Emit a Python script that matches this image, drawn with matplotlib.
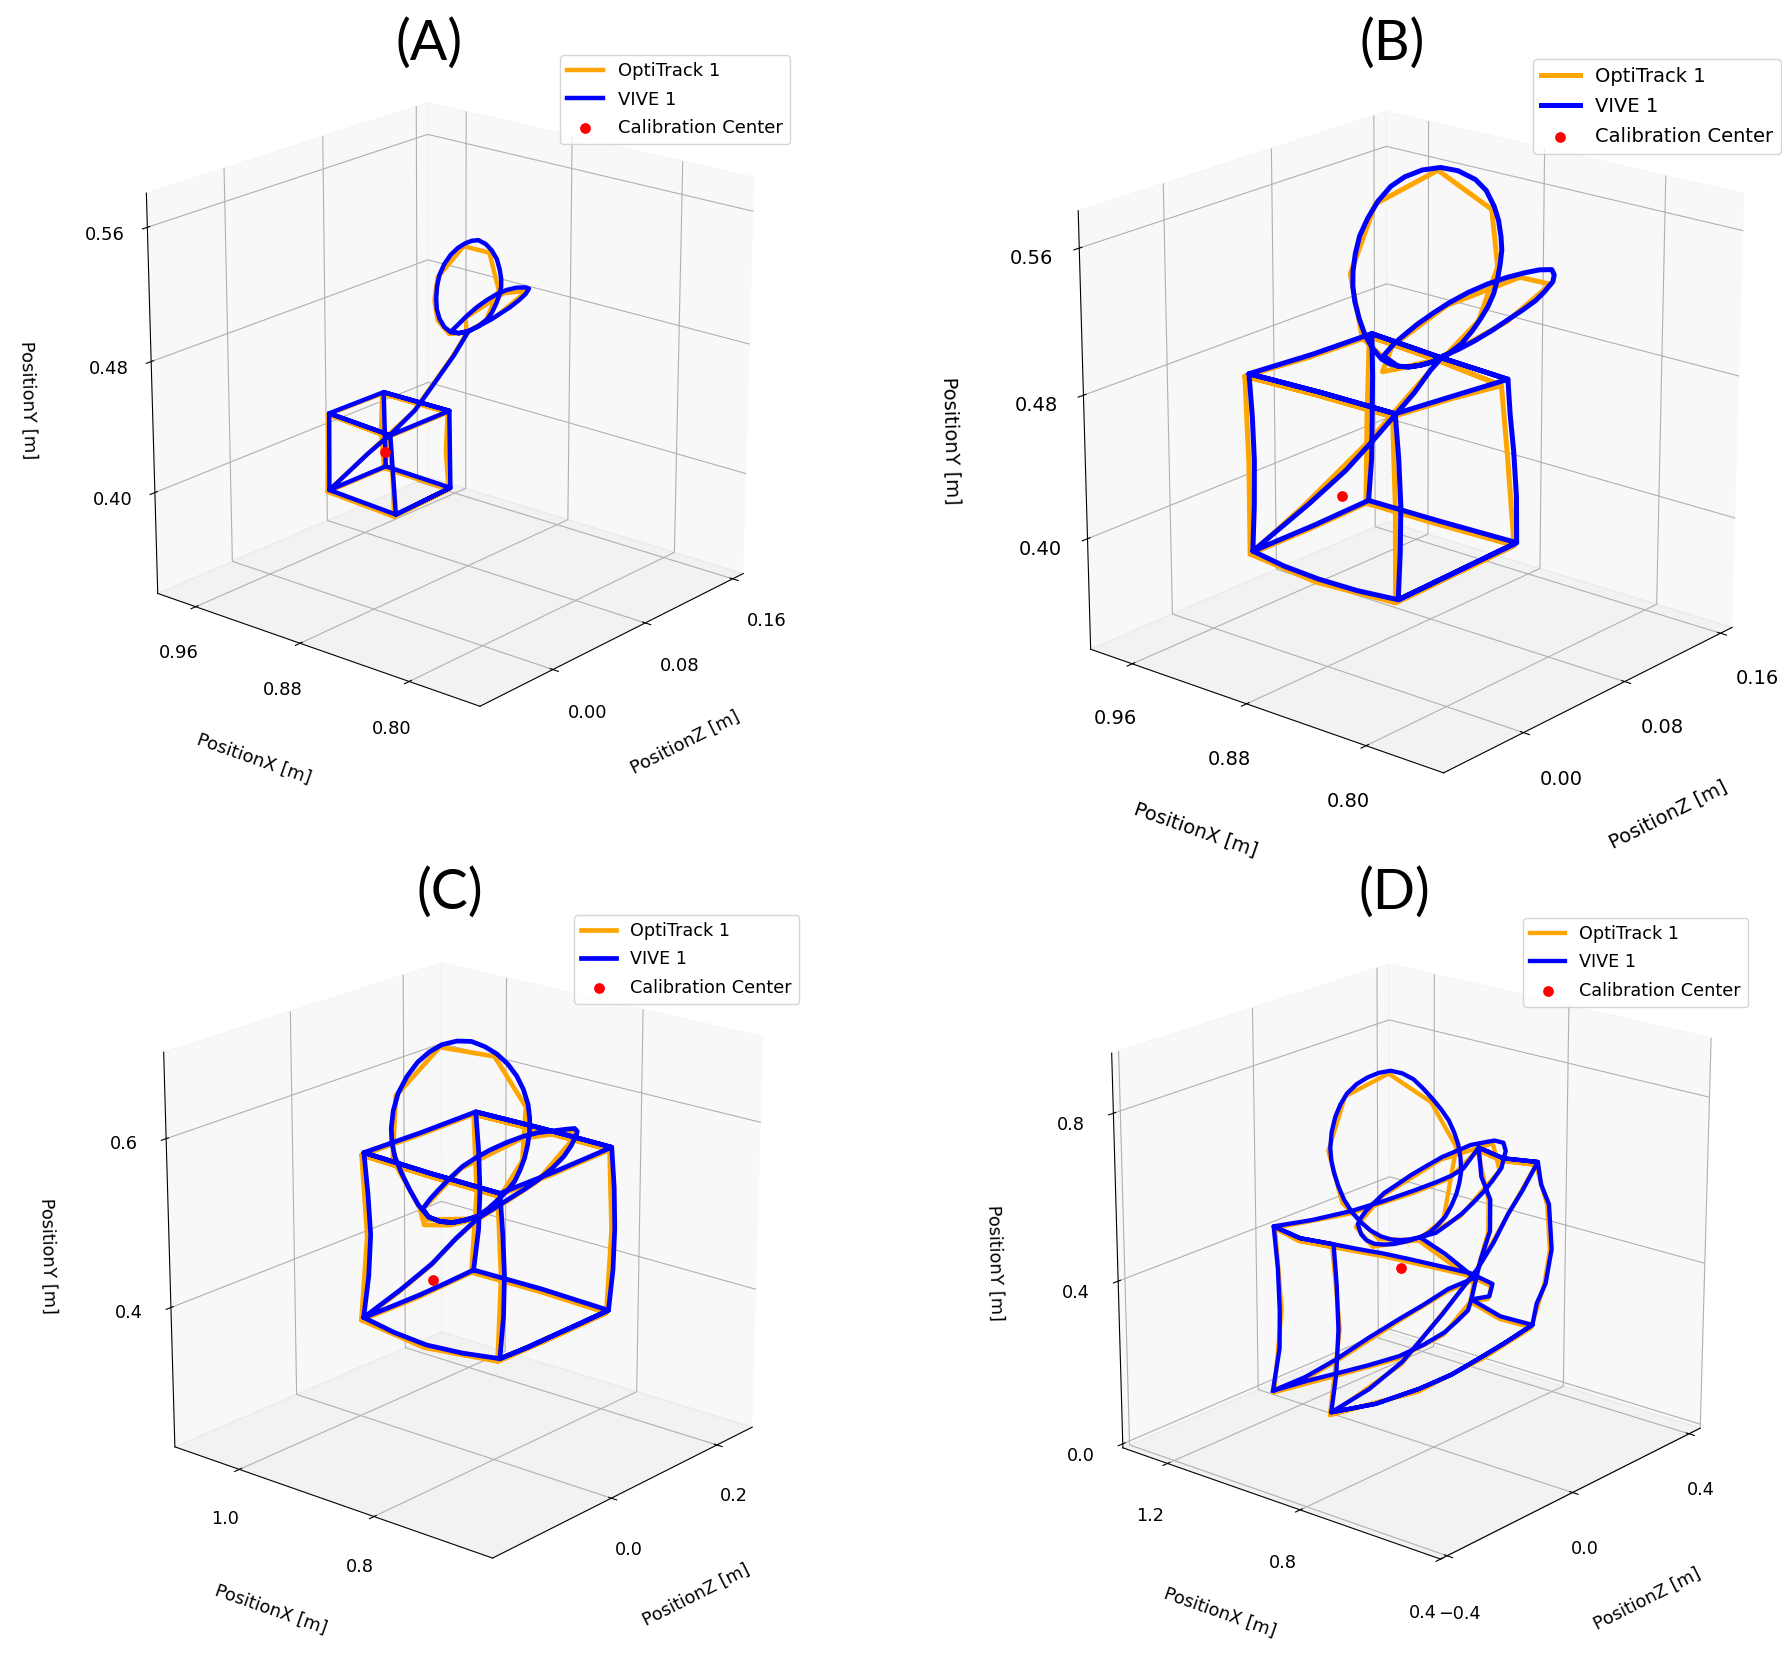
import matplotlib
matplotlib.use("Agg")
import matplotlib.pyplot as plt
from matplotlib.transforms import Affine2D

W, H = 1782, 1655
LOOP_X = .866   # PositionX of the loop part of each trajectory

# ---------- Panel A ----------
a_vive_loop_z = [.0641,.0560,.0492,.0437,.0397,.0375,.0370,.0377,.0397,.0437,.0492,.0550,.0614,.0668,.0722,.0785,.0835,.0880,.0905,.0918,.0918,.0900,.0875,.0842,.0804,.0725,.0641,.0560,.0492,
                 .0555,.0628,.0710,.0795,.0880,.0965,.1050,.1130,.1160,.1130,.1070,.0990,.0905,.0835,.0765,.0641,.0519,.0329,.0194,.0004,-.0186]
a_vive_loop_y = [.4915,.4925,.4950,.4997,.5058,.5120,.5186,.5255,.5318,.5372,.5414,.5438,.5450,.5450,.5440,.5400,.5350,.5285,.5215,.5155,.5105,.5055,.5015,.4975,.4945,.4920,.4915,.4925,.4954,
                 .4980,.5012,.5040,.5060,.5072,.5075,.5066,.5046,.5030,.5005,.4982,.4960,.4945,.4932,.4925,.4915,.4804,.4664,.4567,.4486,.4425]
a_vive_cube_x = [.891,.841,.841,.891,.891,.891,.891,.841,.841,.891,.841,.841,.841,.841,.891,.891]
a_vive_cube_z = [-.0234,-.0245,.0202,.0226,-.0234,-.0229,.0213,.0194,-.0286,-.0229,-.0286,-.0245,.0202,.0194,.0213,.0226]
a_vive_cube_y = [.4153,.4138,.4156,.4153,.4153,.4614,.4610,.4623,.4623,.4614,.4623,.4138,.4156,.4623,.4610,.4153]
a_opti_loop_z = [.0626,.0477,.0382,.0355,.0382,.0599,.0816,.0897,.0789,.0626,.0613,.0938,.1145,.0884,.0626,.0504,.0179,-.0201]
a_opti_loop_y = [.4909,.4944,.5052,.5178,.5308,.5436,.5340,.5094,.4939,.4909,.5002,.5062,.5022,.4940,.4909,.4798,.4561,.4419]
a_opti_cube_x = [.891,.841,.841,.891,.891,.891,.891,.841,.841,.891,.841,.841,.841,.841,.841,.841,.891,.891,.891]
a_opti_cube_z = [-.0249,-.0260,.0187,.0211,-.0249,-.0238,.0200,.0180,-.0300,-.0238,-.0300,-.0270,-.0260,.0187,.0165,.0180,.0200,.0190,.0211]
a_opti_cube_y = [.4147,.4130,.4150,.4147,.4147,.4610,.4605,.4618,.4617,.4610,.4617,.4380,.4130,.4150,.4390,.4618,.4605,.4380,.4147]
a_center = (.866, -.0055, .439)

# ---------- Panel B ----------
b_vive_loop_z = [.0735,.0650,.0561,.0470,.0388,.0322,.0264,.0195,.0141,.0098,.0066,.0052,.0054,.0072,.0104,.0165,.0240,.0335,.0438,.0570,.0710,.0845,.0980,.1065,.1130,.1165,.1185,.1192,.1180,.1160,.1130,.1085,.1030,.0965,.0878,.0805,.0735,.0650,.0561,.0470,.0388,.0277,
                 .0363,.0450,.0537,.0660,.0784,.0930,.1081,.1235,.1380,.1500,.1600,.1620,.1610,.1540,.1470,.1365,.1260,.1125,.0982,.0860,.0735,.0636,.0512,.0363,.0215,-.0008,-.0280]
b_vive_loop_y = [.4921,.4912,.4919,.4935,.4962,.4995,.5035,.5115,.5199,.5300,.5401,.5485,.5567,.5655,.5740,.5820,.5890,.5945,.5970,.5975,.5955,.5905,.5825,.5745,.5640,.5555,.5460,.5385,.5310,.5235,.5160,.5100,.5050,.5000,.4950,.4930,.4912,.4912,.4919,.4935,.4962,.5050,
                 .5096,.5125,.5152,.5180,.5203,.5220,.5226,.5222,.5210,.5195,.5170,.5135,.5100,.5060,.5030,.5005,.4985,.4958,.4937,.4925,.4921,.4870,.4781,.4700,.4619,.4506,.4407]
b_vive_cube_x = [.916,.891,.866,.841,.816,.816,.816,.866,.916,.916,.916,.916,.916,.916,.916,.916,.916,.866,.816,.816,.816,.866,.916,.866,.816,.816,.816,.816,.816,.816,.816,.816,.816,.816,.816,.866,.916,.916,.916,.916,.916]
b_vive_cube_z = [-.016,-.0195,-.021,-.0205,-.018,.028,.073,.071,.072,.030,-.016,-.0145,-.014,-.015,-.017,.030,.075,.071,.065,.023,-.020,-.018,-.017,-.018,-.020,-.0175,-.016,-.0165,-.018,.028,.073,.0725,.070,.067,.065,.071,.075,.0755,.075,.0745,.072]
b_vive_cube_y = [.398,.3972,.397,.3972,.398,.399,.400,.400,.399,.398,.398,.423,.448,.472,.4965,.494,.493,.492,.493,.496,.499,.498,.4965,.498,.499,.474,.448,.423,.398,.399,.400,.426,.452,.473,.493,.492,.493,.469,.445,.422,.399]
b_opti_loop_z = [.0715,.0368,.0121,.0034,.0220,.0690,.1110,.1160,.1010,.0715,.0368,.0270,.0343,.0764,.1340,.1590,.1240,.0715,.0472,.0175,-.0320]
b_opti_loop_y = [.4911,.4952,.5189,.5557,.5880,.5945,.5630,.5300,.5040,.4902,.4952,.4965,.5086,.5193,.5195,.5090,.4975,.4911,.4781,.4619,.4407]
b_opti_cube_x = [.916,.866,.816,.816,.816,.866,.916,.916,.916,.916,.916,.916,.916,.866,.816,.816,.816,.866,.916,.866,.816,.816,.816,.816,.816,.816,.816,.866,.916,.916,.916]
b_opti_cube_z = [-.018,-.023,-.020,.026,.071,.069,.070,.028,-.018,-.018,-.020,.028,.073,.069,.060,.021,-.022,-.020,-.020,-.020,-.022,-.020,-.020,.026,.071,.065,.060,.069,.073,.071,.070]
b_opti_cube_y = [.397,.396,.397,.398,.399,.399,.398,.397,.397,.448,.496,.493,.492,.491,.491,.495,.498,.497,.496,.497,.498,.448,.397,.398,.399,.452,.491,.491,.492,.445,.398]
b_center = (.866, -.004, .4375)

# ---------- Panel C ----------
c_vive_loop_z = [.0520,.0290,.0068,-.0150,-.0354,-.0530,-.0685,-.0815,-.0926,-.0975,-.0986,-.0950,-.0865,-.0715,-.0534,-.0330,-.0112,.0150,.0400,.0635,.0852,.1050,.1213,.1335,.1424,.1455,.1453,.1420,.1364,.1285,.1182,.1055,.0911,.0720,.0520,.0290,.0068,-.0150,-.0354,
                 -.0452,-.0330,-.0184,.0030,.0250,.0490,.0731,.1030,.1334,.1610,.1875,.2110,.2300,.2350,.2330,.2240,.2100,.1880,.1640,.1370,.1094,.0810,.0520,.0130,-.0293,-.0845]
c_vive_loop_y = [.4929,.4945,.4974,.5045,.5153,.5340,.5569,.5785,.6002,.6170,.6344,.6535,.6716,.6870,.6989,.7060,.7094,.7075,.7013,.6900,.6764,.6600,.6421,.6235,.6034,.5865,.5701,.5550,.5405,.5285,.5171,.5100,.5041,.4975,.4929,.4945,.4974,.5045,.5153,
                 .5277,.5355,.5424,.5515,.5594,.5635,.5662,.5676,.5674,.5650,.5605,.5565,.5530,.5480,.5440,.5340,.5240,.5150,.5083,.5030,.4990,.4945,.4906,.4771,.4586,.4430]
c_vive_cube_x = [.966,.916,.866,.816,.766,.766,.766,.766,.766,.866,.966,.966,.966,.966,.966,.966,.966,.966,.966,.966,.966,.866,.766,.766,.766,.866,.966,.866,.766,.766,.766,.766,.766,.766,.766,.766,.766,.766,.766,.766,.766,.866,.966,.966,.966,.966,.966]
c_vive_cube_z = [-.0321,-.0375,-.0397,-.0375,-.0324,.016,.0656,.116,.1669,.1700,.1672,.117,.0696,.016,-.0321,-.0225,-.0185,-.0225,-.0289,.0726,.1711,.1701,.1688,.0636,-.0332,-.0340,-.0289,-.0340,-.0332,-.0280,-.0248,-.0262,-.0324,.016,.0656,.116,.1669,.1745,.1767,.1745,.1688,.1701,.1711,.1765,.1790,.1765,.1672]
c_vive_cube_y = [.3699,.3660,.3640,.3665,.3711,.3700,.3703,.3705,.3711,.3718,.3721,.3702,.3690,.3692,.3699,.418,.4665,.516,.5672,.5659,.5665,.5676,.5672,.5650,.5650,.5665,.5672,.5665,.5650,.516,.4668,.419,.3711,.3700,.3703,.3705,.3711,.419,.4683,.518,.5672,.5676,.5665,.517,.4672,.420,.3721]
c_opti_loop_z = [.0480,-.0394,-.0966,-.0905,-.0152,.0812,.1384,.1324,.0871,.0480,.0028,-.0430,-.0492,.0210,.1294,.2260,.2290,.1600,.1054,.0480,.0090,-.0333,-.0885]
c_opti_loop_y = [.4909,.5133,.5982,.6696,.7074,.6744,.6014,.5385,.5021,.4909,.4954,.5080,.5257,.5574,.5654,.5510,.5420,.5063,.4970,.4886,.4751,.4566,.4410]
c_opti_cube_x = [.966,.866,.766,.766,.766,.866,.966,.966,.966,.966,.966,.966,.966,.866,.766,.766,.766,.866,.966,.866,.766,.766,.766,.766,.766,.766,.766,.866,.966,.966,.966]
c_opti_cube_z = [-.0361,-.0437,-.0364,.0616,.1629,.1660,.1632,.0656,-.0361,-.0245,-.0329,.0686,.1671,.1661,.1648,.0596,-.0372,-.0380,-.0329,-.0380,-.0372,-.0308,-.0364,.0616,.1629,.1707,.1648,.1661,.1671,.1730,.1632]
c_opti_cube_y = [.3679,.3620,.3691,.3683,.3691,.3698,.3701,.3670,.3679,.4665,.5652,.5639,.5645,.5656,.5652,.5630,.5630,.5645,.5652,.5645,.5630,.4668,.3691,.3683,.3691,.4683,.5652,.5656,.5645,.4672,.3701]
c_center = (.866, -.0275, .438)

# ---------- Panel D ----------
d_vive_loop_z = [.0267,-.0040,-.035,-.0665,-.0967,-.1290,-.1583,-.1865,-.2097,-.2270,-.2405,-.2480,-.2508,-.2465,-.2354,-.2195,-.1994,-.1700,-.1378,-.1015,-.0658,-.0290,.0061,.0375,.0678,.0950,.1192,.1365,.1500,.1575,.1603,.1545,.1449,.1290,.1089,.0835,.0575,.0267,
                 -.0140,-.0556,-.0860,-.1172,-.1420,-.1583,-.1686,-.1580,-.1429,-.1150,-.0864,-.0450,-.0042,.0480,.0986,.1450,.1911,.2300,.2700,.3000,.3080,.2940,.2650,.2370,.2000,.1630,.1200,.0781,.0267,
                 .1089,.1808,.2065,.1192,.0369,-.035,-.1378,-.2405,-.3330]
d_vive_loop_y = [.4805,.4850,.4923,.5040,.5202,.5440,.5719,.6050,.6404,.6770,.7142,.7440,.7735,.8085,.8405,.8650,.8849,.8985,.9050,.9065,.9018,.8860,.8628,.8320,.7990,.7670,.7345,.7015,.6687,.6350,.6014,.5750,.5504,.5270,.5060,.4925,.4826,.4805,
                 .4835,.4895,.4975,.5088,.5250,.5440,.5715,.5840,.5950,.6080,.6205,.6290,.6380,.6460,.6530,.6540,.6555,.6500,.6440,.6300,.6080,.5700,.5480,.5300,.5120,.4965,.4850,.4755,.4805,
                 .4144,.3488,.3251,.3252,.3120,.3033,.2887,.2702,.2602]
d_vive_cube_x = [1.066]*10+[.866]+[.666]*7+[.866]+[1.066]*7+[.866]*7+[.666]+[.866]+[1.066]*9+[.866]+[.666]*25+[.866]+[1.066]*5
d_vive_cube_z = [-.2285,-.1220,-.0295,.0732,.176,.2582,.3302,.3713,.4100,.4215,.2950,.1721,.1857,.2150,.2340,.2230,.1959,.1840,.3000,.4437,.4535,.4850,.4850,.4535,.4350,.4215,.2565,.2668,.1911,.0781,-.0042,-.0864,-.1635,-.4515,-.3433,-.2195,-.1015,.0218,.1246,.2274,.2993,.3507,.3918,.4437,.3000,.1840,.1343,.0882,.0418,-.0096,-.1227,-.246,-.3488,-.4622,-.3282,-.1946,-.0918,.0109,.0882,.1721,.0882,.0109,-.0918,-.1946,-.3282,-.4622,-.4464,-.4392,-.4433,-.4515,-.3433,-.2195,-.2084,-.2043,-.2063,-.2285]
d_vive_cube_y = [.1385,.1264,.1130,.0987,.0875,.0891,.0977,.1122,.1280,.1527,.2000,.2692,.3171,.3570,.4349,.5475,.6030,.6604,.5920,.5340,.4575,.3900,.3087,.2465,.1937,.1527,.2630,.2909,.3417,.3967,.4366,.4757,.5100,.6578,.5915,.5350,.5145,.4993,.4928,.4893,.4886,.4897,.4963,.5340,.5920,.6604,.6067,.5649,.5107,.4644,.3905,.3198,.2896,.2749,.2480,.2373,.2363,.2470,.2563,.2692,.2563,.2470,.2363,.2373,.2480,.2749,.3594,.4587,.5615,.6578,.5915,.5350,.4309,.3280,.2350,.1385]
d_opti_loop_z = [.0207,-.1027,-.2157,-.2568,-.2054,-.0718,.0618,.1440,.1029,.0207,-.1232,-.1746,-.0924,.0926,.2640,.2880,.1570,.0207,.1748,.2005,.1132,-.041,-.2465,-.3390]
d_opti_loop_y = [.4755,.5152,.6354,.7685,.8799,.8968,.7940,.6637,.5010,.4755,.5038,.5665,.6155,.6480,.6390,.5650,.4915,.4755,.3438,.3201,.3202,.2983,.2652,.2552]
d_opti_cube_x = [1.066,1.066,1.066,1.066,1.066,.866,.666,.666,.666,.666,.666,.866,1.066,1.066,1.066,1.066,1.066,.866,.866,.866,.866,.866,.666,.866,1.066,1.066,1.066,1.066,1.066,.866,.666,.666,.666,.666,.666,.666,.666,.666,.666,.666,.666,.666,.666,.866,1.066,1.066,1.066]
d_opti_cube_z = [-.2245,-.0335,.172,.3262,.4175,.2910,.1681,.2110,.2280,.2170,.1780,.2960,.4397,.4790,.4790,.4295,.4175,.2525,.2628,.1871,.0741,-.0904,-.4555,-.3473,-.2155,.0178,.2234,.3467,.4397,.2960,.1780,.0842,-.0136,-.250,-.4662,-.1986,.0069,.1681,.0069,-.1986,-.4662,-.4352,-.4555,-.3473,-.2155,-.1983,-.2245]
d_opti_cube_y = [.1335,.1080,.0825,.0927,.1477,.1950,.2642,.3570,.4349,.5475,.6554,.5870,.5290,.3900,.3087,.1937,.1477,.2580,.2859,.3367,.3917,.4707,.6528,.5865,.5300,.4943,.4843,.4847,.5290,.5870,.6554,.5599,.4594,.3148,.2699,.2323,.2420,.2642,.2420,.2323,.2699,.4587,.6528,.5865,.5300,.3280,.1335]
d_center = (.866, -.035, .4244)

def route(loop_z, loop_y, cube_x, cube_z, cube_y):
    return [LOOP_X]*len(loop_z)+cube_x, loop_z+cube_z, loop_y+cube_y

panels = [
 dict(t="(A)", tx=429, ty=44, c=(452,407), S=712, fs=13, lw=3.2,
      xl=(.75,.99), zl=(-.06,.17), yl=(.337,.58), xt=[.80,.88,.96], zt=[0,.08,.16], yt=[.40,.48,.56], fmt="%.2f",
      leg=(560,55), vive=route(a_vive_loop_z,a_vive_loop_y,a_vive_cube_x,a_vive_cube_z,a_vive_cube_y),
      opti=route(a_opti_loop_z,a_opti_loop_y,a_opti_cube_x,a_opti_cube_z,a_opti_cube_y), cen=a_center,
      off=((20,-12),(-5,-15),(-16,2)), loff=((19,-31),(-18,-33),(-36,0))),
 dict(t="(B)", tx=1392, ty=44, c=(1413,445), S=780, fs=14, lw=3.6,
      xl=(.75,.99), zl=(-.06,.17), yl=(.337,.58), xt=[.80,.88,.96], zt=[0,.08,.16], yt=[.40,.48,.56], fmt="%.2f",
      leg=(1533,59), vive=route(b_vive_loop_z,b_vive_loop_y,b_vive_cube_x,b_vive_cube_z,b_vive_cube_y),
      opti=route(b_opti_loop_z,b_opti_loop_y,b_opti_cube_x,b_opti_cube_z,b_opti_cube_y), cen=b_center,
      off=((23,-15),(-5,-23),(-21,0)), loff=((26,-43),(-24,-43),(-45,-4))),
 dict(t="(C)", tx=450, ty=893, c=(465,1263), S=702, fs=12.7, lw=3.4,
      xl=(.633,1.1), zl=(-.21,.27), yl=(.23,.70), xt=[.8,1.0], zt=[0,.2], yt=[.4,.6], fmt="%.1f",
      leg=(574,915), vive=route(c_vive_loop_z,c_vive_loop_y,c_vive_cube_x,c_vive_cube_z,c_vive_cube_y),
      opti=route(c_opti_loop_z,c_opti_loop_y,c_opti_cube_x,c_opti_cube_z,c_opti_cube_y), cen=c_center,
      off=((3,-21),(-2,-18),(-16,4)), loff=((20,-31),(-16,-31),(-33,0))),
 dict(t="(D)", tx=1394, ty=893, c=(1413,1264), S=702, fs=12.7, lw=3.1,
      xl=(.4,1.34), zl=(-.42,.44), yl=(-.01,.94), xt=[.4,.8,1.2], zt=[-.4,0,.4], yt=[0,.4,.8], fmt="%.1f",
      leg=(1523,918), vive=route(d_vive_loop_z,d_vive_loop_y,d_vive_cube_x,d_vive_cube_z,d_vive_cube_y),
      opti=route(d_opti_loop_z,d_opti_loop_y,d_opti_cube_x,d_opti_cube_z,d_opti_cube_y), cen=d_center,
      off=((-2,-26),(-5,-21),(-16,-2)), loff=((23,-34),(-15,-33),(-34,-6))),
]

def shift_ticklabels(ax, axis, dx, dy):
    orig = axis.get_major_ticks
    def patched(numticks=None):
        ticks = orig(numticks)
        for t in ticks:
            t.label1.set_transform(ax.transData + Affine2D().translate(dx, dy))
        return ticks
    axis.get_major_ticks = patched

def shift_label(ax, label, dx, dy):
    tr = ax.transData + Affine2D().translate(dx, dy)
    draw = label.draw
    def shifted(renderer):
        label._transform = tr
        return draw(renderer)
    label.draw = shifted

fig = plt.figure(figsize=(W/100,H/100), dpi=100)
for p in panels:
    S=p['S']; cx,cy=p['c']
    ax = fig.add_axes([(cx-.513*S)/W, 1-(cy+.487*S)/H, S/W, S/H], projection='3d')
    ax.computed_zorder = False
    ax.view_init(elev=20, azim=-140)
    ax.set_box_aspect((1,1,1))
    ax.set_xlim(*p['zl']); ax.set_ylim(*p['xl']); ax.set_zlim(*p['yl'])
    ax.set_xticks(p['zt']); ax.set_yticks(p['xt']); ax.set_zticks(p['yt'])
    f=lambda v:(p['fmt']%v).replace('-','\u2212')
    ax.set_xticklabels([f(v) for v in p['zt']]); ax.set_yticklabels([f(v) for v in p['xt']]); ax.set_zticklabels([f(v) for v in p['yt']])
    ax.tick_params(labelsize=p['fs'])
    ax.xaxis.set_pane_color((.95,.95,.95,.5)); ax.yaxis.set_pane_color((.95,.95,.95,.5)); ax.zaxis.set_pane_color((.90,.90,.90,.5))
    ax.set_xlabel("PositionZ [m]",fontsize=p['fs'],labelpad=18)
    ax.set_ylabel("PositionX [m]",fontsize=p['fs'],labelpad=18)
    ax.set_zlabel("PositionY [m]",fontsize=p['fs'],labelpad=18)
    for axis,o,l in zip((ax.xaxis,ax.yaxis,ax.zaxis),p['off'],p['loff']):
        shift_ticklabels(ax,axis,*o)
        shift_label(ax,axis.label,*l)
    ox,oz,oy=p['opti']; vx,vz,vy=p['vive']
    ax.plot(oz,ox,oy,color='orange',lw=p['lw'],label='OptiTrack 1',zorder=2,solid_joinstyle='round')
    ax.plot(vz,vx,vy,color='blue',lw=p['lw'],label='VIVE 1',zorder=3,solid_joinstyle='round')
    X,Z,Y=p['cen']
    ax.scatter([Z],[X],[Y],color='red',s=45,label='Calibration Center',depthshade=False,zorder=4)
    lx,ly=p['leg']
    ax.legend(loc='upper left',bbox_to_anchor=(lx/W,1-ly/H),bbox_transform=fig.transFigure,borderaxespad=0,fontsize=p['fs'],labelspacing=.58)
    fig.text(p['tx']/W,1-p['ty']/H,p['t'],fontsize=40,family='Lato',ha='center',va='center')
fig.savefig('out.png',dpi=100)
